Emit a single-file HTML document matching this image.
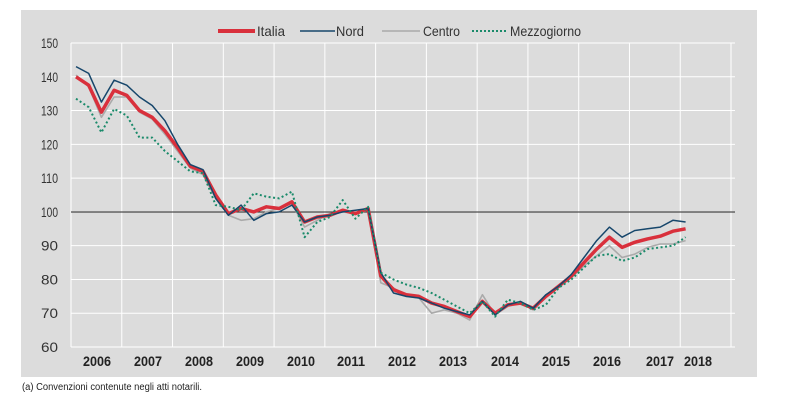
<!DOCTYPE html>
<html><head><meta charset="utf-8"><style>
html,body{margin:0;padding:0;background:#fff;width:790px;height:406px;overflow:hidden}
svg text{font-family:"Liberation Sans",sans-serif}
</style></head><body>
<svg id="s" width="790" height="406" xmlns="http://www.w3.org/2000/svg">
<rect x="21" y="10" width="736" height="367" fill="#dcdcdc"/>
<g id="grid"></g>
<line x1="71" y1="212" x2="735" y2="212" stroke="#222" stroke-width="1"/>
<g id="lines"></g>
<g font-size="14" fill="#333">
<line x1="218" y1="31" x2="255" y2="31" stroke="#d9303c" stroke-width="4"/><text x="257" y="36" textLength="28" lengthAdjust="spacingAndGlyphs">Italia</text>
<line x1="300" y1="31" x2="335" y2="31" stroke="#16466b" stroke-width="1.6"/><text x="336" y="36" textLength="28" lengthAdjust="spacingAndGlyphs">Nord</text>
<line x1="382" y1="31" x2="420" y2="31" stroke="#aaa" stroke-width="1.6"/><text x="423" y="36" textLength="37" lengthAdjust="spacingAndGlyphs">Centro</text>
<line x1="472" y1="31" x2="507" y2="31" stroke="#1a8a6a" stroke-width="2" stroke-dasharray="2,2"/><text x="510" y="36" textLength="71" lengthAdjust="spacingAndGlyphs">Mezzogiorno</text>
</g>
<g id="ylab" font-size="14" fill="#333" text-anchor="end"></g>
<g id="xlab" font-size="14" font-weight="bold" fill="#222" text-anchor="middle"></g>
<text x="22" y="390" font-size="10" fill="#222" textLength="180" lengthAdjust="spacingAndGlyphs">(a) Convenzioni contenute negli atti notarili.</text>
</svg>
<script>
var ns="http://www.w3.org/2000/svg";
function Y(v){return 43+(150-v)*3.378;}
function el(t,a,p){var e=document.createElementNS(ns,t);for(var k in a)e.setAttribute(k,a[k]);document.getElementById(p).appendChild(e);return e;}
for(var v=60;v<=150;v+=10){var y=Y(v);el("line",{x1:71,x2:735,y1:y,y2:y,stroke:"#fff","stroke-width":1},"grid");var t=el("text",{x:58,y:y+5,textLength:17,lengthAdjust:"spacingAndGlyphs"},"ylab");t.textContent=v;}
for(var i=0;i<=13;i++){var x=71+i*50.77;el("line",{x1:x,x2:x,y1:43,y2:347,stroke:"#fff","stroke-width":1},"grid");}
var yrs=[2006,2007,2008,2009,2010,2011,2012,2013,2014,2015,2016,2017,2018];
var xs=[97,148,199,250,301,351,402,453,505,556,607,660,698];
for(var i=0;i<13;i++){var t=el("text",{x:xs[i],y:366,textLength:28,lengthAdjust:"spacingAndGlyphs"},"xlab");t.textContent=yrs[i];}
var It=[140,137.5,129.5,136,134.5,130,128,124,119,113.5,112,105,99.5,101,100,101.5,101,103,97,98.5,99,100.5,99.5,101,81,77,75.5,75,73,72,70.5,69,73.5,70,72.5,73,71.5,75,78,81,85,89,92.5,89.5,91,92,92.8,94.3,95];
var No=[143,141,132.5,139,137.5,134,131.5,127,120,114,112.5,104,99,102,97.5,99.5,100,102,97,98.5,99,100,100.5,101,82,76,75,74.5,73,71.5,70.5,69.5,73.5,69.5,72.5,73.5,71.5,75.5,78,81.5,86.5,91.5,95.5,92.5,94.5,95,95.5,97.5,97];
var Ce=[140.5,137,128,134,134,129.5,127.5,123,118,113,111,104,99,97.5,98,100,101,102.5,95.5,97.5,99.5,100,99.5,100.5,79,77.5,75,74.5,70,71,70,68,75.5,69.5,72,73,71,75,78,80.5,84,87,90,86.5,87.5,89.5,90.5,90.5,91.5];
var Me=[133.5,131,123.5,130.5,128.5,122,122,118,115,112,111.5,102,101.5,100.5,105.5,104.5,104,106,92.5,97,98.5,103.5,98,101.5,82,80,78.5,77.5,76,74,72,70,73.5,69,74,73,71,72.5,77.5,80,83.5,87,87.5,85.5,86.5,89,89.5,90,92.5];
function path(d,a){var s="";for(var i=0;i<d.length;i++){s+=(i?"L":"M")+(76+i*12.7).toFixed(1)+","+Y(d[i]).toFixed(1);}a.d=s;a.fill="none";a["stroke-linejoin"]="round";el("path",a,"lines");}
path(Ce,{stroke:"#aaa","stroke-width":1.6});
path(It,{stroke:"#d9303c","stroke-width":3.5});
path(No,{stroke:"#16466b","stroke-width":1.5});
path(Me,{stroke:"#1a8a6a","stroke-width":2,"stroke-dasharray":"2,2.5"});
</script>
</body></html>
